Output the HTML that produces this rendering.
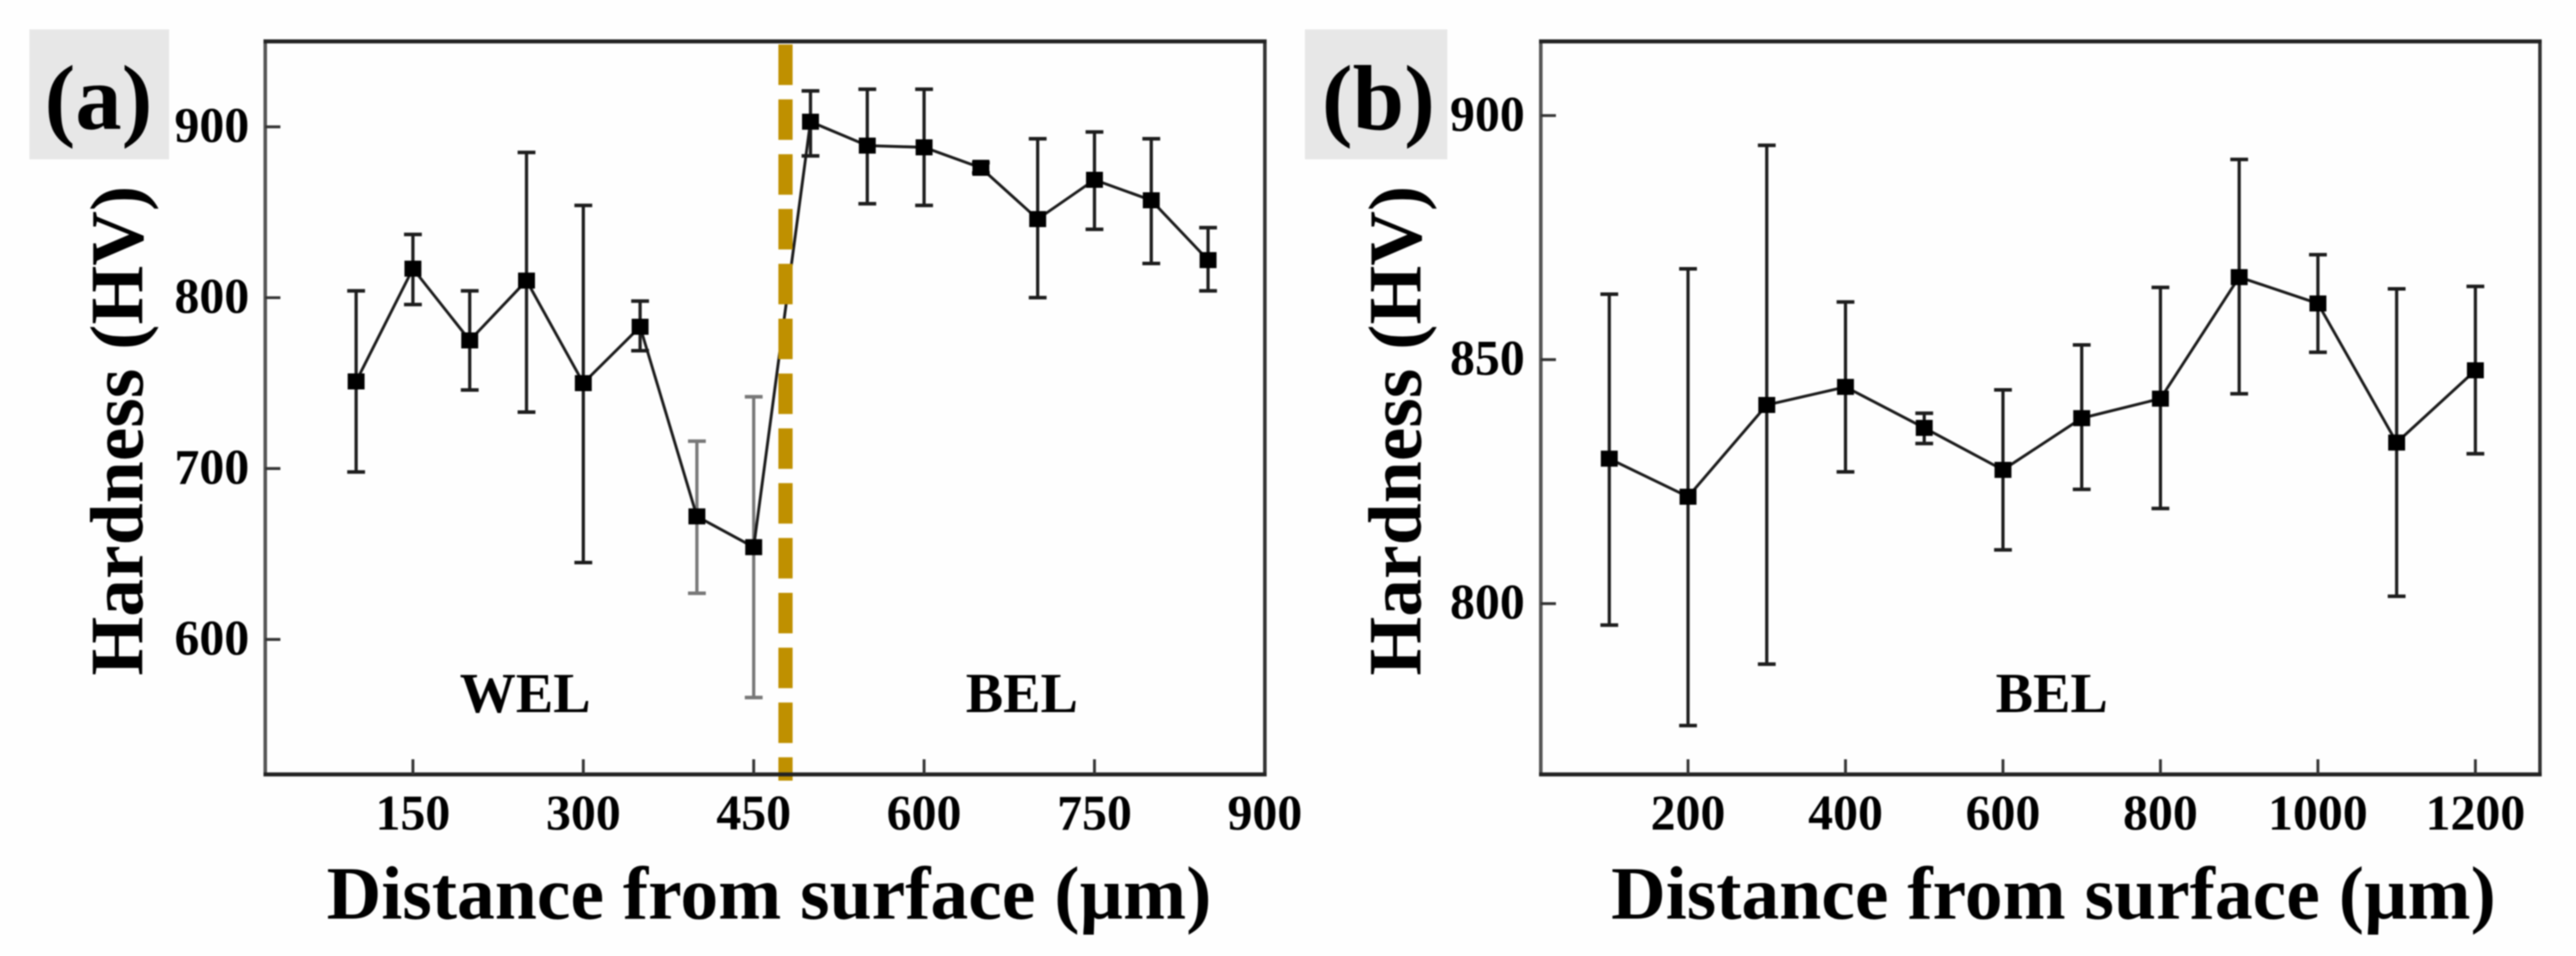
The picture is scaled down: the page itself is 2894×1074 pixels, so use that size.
<!DOCTYPE html>
<html lang="en">
<head>
<meta charset="utf-8">
<title>Hardness vs distance from surface</title>
<style>
  html, body { margin: 0; padding: 0; background: #fff; }
  body { width: 2894px; height: 1074px; overflow: hidden; }
  svg { display: block; filter: blur(0.9px); }
  text { font-family: "Liberation Serif", "DejaVu Serif", serif; font-weight: bold; fill: #000; }
  .tick-label { font-size: 56px; }
  .axis-title { font-size: 85px; }
  .region-label { font-size: 63px; text-anchor: middle; }
  .panel-label { font-size: 104px; }
</style>
</head>
<body>
<svg id="figure" xmlns="http://www.w3.org/2000/svg" width="2894" height="1074" viewBox="0 0 2894 1074">
  <rect x="0" y="0" width="2894" height="1074" fill="#fefefe"/>

  <g id="panel-a">
    <rect x="33" y="33" width="157" height="146" fill="#e7e7e7"/>
    <text class="panel-label" x="50" y="145">(a)</text>
    <text class="axis-title" transform="translate(160,759) rotate(-90)">Hardness (HV)</text>
    <text class="axis-title" x="367" y="1032">Distance from surface (µm)</text>
    <text class="region-label" x="590" y="800">WEL</text>
    <text class="region-label" x="1148" y="800">BEL</text>
  </g>

  <g id="panel-b">
    <rect x="1466" y="33" width="160" height="146" fill="#e7e7e7"/>
    <text class="panel-label" x="1485" y="145">(b)</text>
    <text class="axis-title" transform="translate(1596,759) rotate(-90)">Hardness (HV)</text>
    <text class="axis-title" x="1810" y="1032">Distance from surface (µm)</text>
    <text class="region-label" x="2305" y="800">BEL</text>
  </g>
</svg>

<script>
// Panel (a) data
const aDistance = [100, 150, 200, 250, 300, 350, 400, 450, 500, 550, 600, 650, 700, 750, 800, 850];
const aHardness = [751, 817, 775, 810, 750, 783, 672, 654, 903, 889, 888, 876, 846, 869, 857, 822];
const aErrUpper = [804, 837, 804, 885, 854, 798, 716, 742, 921, 922, 922, 879, 893, 897, 893, 841];
const aErrLower = [698, 796, 746, 733, 645, 769, 627, 566, 883, 855, 854, 873, 800, 840, 820, 804];
const aXTicks = [150, 300, 450, 600, 750, 900];
const aYTicks = [600, 700, 800, 900];
const aBoundary = [478];
const aFaded = [400, 450];

// Panel (b) data
const bDistance = [100, 200, 300, 400, 500, 600, 700, 800, 900, 1000, 1100, 1200];
const bHardness = [829.7, 821.9, 840.7, 844.4, 836, 827.4, 838, 842, 866.9, 861.5, 833, 847.8];
const bErrUpper = [863.4, 868.6, 893.9, 861.8, 839, 843.8, 853, 864.8, 891, 871.5, 864.5, 865];
const bErrLower = [795.6, 775, 787.6, 827, 832.8, 811, 823.4, 819.5, 843, 851.5, 801.5, 830.7];
const bXTicks = [200, 400, 600, 800, 1000, 1200];
const bYTicks = [800, 850, 900];
const bFaded = [];

const SVG_NS = 'http://www.w3.org/2000/svg';

function makeLine(parent, x1, y1, x2, y2, stroke, width) {
  const el = document.createElementNS(SVG_NS, 'line');
  el.setAttribute('x1', x1);
  el.setAttribute('y1', y1);
  el.setAttribute('x2', x2);
  el.setAttribute('y2', y2);
  el.setAttribute('stroke', stroke);
  el.setAttribute('stroke-width', width);
  parent.appendChild(el);
  return el;
}

function drawPanel(cfg) {
  const group = document.getElementById(cfg.id);
  const xScale = function (v) {
    return cfg.left + (v - cfg.xMin) / (cfg.xMax - cfg.xMin) * (cfg.right - cfg.left);
  };
  const yScale = function (v) {
    return cfg.bottom - (v - cfg.yMin) / (cfg.yMax - cfg.yMin) * (cfg.bottom - cfg.top);
  };

  // Error bars
  cfg.x.forEach(function (xVal, i) {
    const px = xScale(xVal);
    const colour = cfg.faded.indexOf(xVal) >= 0 ? '#777' : '#1c1c1c';
    const bar = document.createElementNS(SVG_NS, 'g');
    
    
    makeLine(bar, px, yScale(cfg.upper[i]), px, yScale(cfg.lower[i]), colour, 3.6);
    makeLine(bar, px - 10, yScale(cfg.upper[i]), px + 10, yScale(cfg.upper[i]), colour, 4);
    makeLine(bar, px - 10, yScale(cfg.lower[i]), px + 10, yScale(cfg.lower[i]), colour, 4);
    group.appendChild(bar);
  });

  // Connecting line
  const polyline = document.createElementNS(SVG_NS, 'polyline');
  
  
  polyline.setAttribute('fill', 'none');
  polyline.setAttribute('stroke', '#1a1a1a');
  polyline.setAttribute('stroke-width', '3.2');
  polyline.setAttribute('points', cfg.x.map(function (xVal, i) {
    return xScale(xVal) + ',' + yScale(cfg.y[i]);
  }).join(' '));
  group.appendChild(polyline);

  // Markers
  cfg.x.forEach(function (xVal, i) {
    const marker = document.createElementNS(SVG_NS, 'rect');
    
    
    marker.setAttribute('x', xScale(xVal) - 9.5);
    marker.setAttribute('y', yScale(cfg.y[i]) - 9);
    marker.setAttribute('width', 19);
    marker.setAttribute('height', 18);
    marker.setAttribute('fill', '#000');
    group.appendChild(marker);
  });

  // Boundary marker
  cfg.boundary.forEach(function (xVal) {
    const px = xScale(xVal);
    const divider = makeLine(group, px, 50, px, 877, '#bf9000', 16);
    divider.setAttribute('stroke-dasharray', '45.5 16.1');
    
    
  });

  // Axis frame
  const frameLeft = makeLine(group, cfg.left, cfg.top - 2, cfg.left, cfg.bottom + 2, '#555', 4);
  
  
  const frameRight = makeLine(group, cfg.right, cfg.top - 2, cfg.right, cfg.bottom + 2, '#333', 4);
  
  
  const frameTop = makeLine(group, cfg.left - 2, cfg.top, cfg.right + 2, cfg.top, '#222', 4.5);
  
  
  const frameBottom = makeLine(group, cfg.left - 2, cfg.bottom, cfg.right + 2, cfg.bottom, '#222', 4.5);
  
  

  // X ticks
  cfg.xTicks.forEach(function (val) {
    const px = xScale(val);
    if (val < cfg.xMax) {
      const tick = makeLine(group, px, cfg.bottom - 17, px, cfg.bottom, '#333', 3.2);
      
      
    }
    const label = document.createElementNS(SVG_NS, 'text');
    
    
    label.setAttribute('class', 'tick-label');
    label.setAttribute('x', px);
    label.setAttribute('y', 932);
    label.setAttribute('text-anchor', 'middle');
    label.textContent = String(val);
    group.appendChild(label);
  });

  // Y ticks
  cfg.yTicks.forEach(function (val) {
    const py = yScale(val);
    const tick = makeLine(group, cfg.left, py, cfg.left + 17, py, '#333', 3.2);
    
    
    const label = document.createElementNS(SVG_NS, 'text');
    
    
    label.setAttribute('class', 'tick-label');
    label.setAttribute('x', cfg.left - 18);
    label.setAttribute('y', py + 17);
    label.setAttribute('text-anchor', 'end');
    label.textContent = String(val);
    group.appendChild(label);
  });
}

drawPanel({
  id: 'panel-a',
  left: 298, right: 1421, top: 46.5, bottom: 870,
  xMin: 20, xMax: 900, yMin: 521, yMax: 950,
  x: aDistance, y: aHardness, upper: aErrUpper, lower: aErrLower,
  xTicks: aXTicks, yTicks: aYTicks, boundary: aBoundary, faded: aFaded
});

drawPanel({
  id: 'panel-b',
  left: 1731, right: 2853.5, top: 46.5, bottom: 870,
  xMin: 13, xMax: 1282, yMin: 765, yMax: 915.2,
  x: bDistance, y: bHardness, upper: bErrUpper, lower: bErrLower,
  xTicks: bXTicks, yTicks: bYTicks, boundary: [], faded: bFaded
});
</script>
</body>
</html>
